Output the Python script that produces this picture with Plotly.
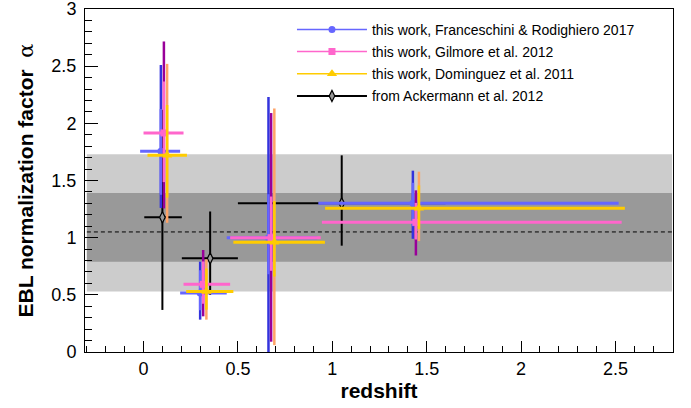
import plotly.graph_objects as go

# ---------------- data ----------------
# Franceschini & Rodighiero 2017 (this work)
fr_x      = [0.092, 0.300, 0.662, 1.427]
fr_xlo    = [0.110, 0.106, 0.221, 0.501]
fr_xhi    = [0.102, 0.141, 0.258, 1.090]
fr_y      = [1.755, 0.515, 1.000, 1.300]
fr_stat_u = [0.37, 0.20, 0.38, 0.18]
fr_stat_d = [0.38, 0.15, 0.32, 0.20]
fr_tot_u  = [0.755, 0.275, 1.23, 0.286]
fr_tot_d  = [0.495, 0.232, 1.05, 0.31]

# Gilmore et al. 2012 (this work)
gi_x      = [0.108, 0.316, 0.676, 1.443]
gi_xlo    = [0.108, 0.104, 0.217, 0.498]
gi_xhi    = [0.104, 0.143, 0.263, 1.090]
gi_y      = [1.916, 0.592, 1.000, 1.134]
gi_stat_u = [0.45, 0.20, 0.36, 0.17]
gi_stat_d = [0.43, 0.17, 0.29, 0.15]
gi_tot_u  = [0.80, 0.30, 1.09, 0.28]
gi_tot_d  = [0.66, 0.28, 0.91, 0.29]

# Dominguez et al. 2011 (this work)
do_x      = [0.125, 0.333, 0.693, 1.459]
do_xlo    = [0.104, 0.107, 0.217, 0.497]
do_xhi    = [0.105, 0.143, 0.268, 1.091]
do_y      = [1.720, 0.530, 0.960, 1.257]
do_stat_u = [0.44, 0.20, 0.36, 0.20]
do_stat_d = [0.37, 0.16, 0.30, 0.18]
do_tot_u  = [0.80, 0.28, 1.17, 0.32]
do_tot_d  = [0.59, 0.247, 0.90, 0.287]

# Ackermann et al. 2012
ac_x   = [0.100, 0.353, 1.050]
ac_xlo = [0.096, 0.150, 0.550]
ac_xhi = [0.103, 0.147, 0.550]
ac_y   = [1.178, 0.819, 1.300]
ac_yu  = [0.94, 0.41, 0.42]
ac_yd  = [0.81, 0.32, 0.37]

# combined bands
band_x      = [-0.30, 2.80]
band_outer  = [0.53, 1.73]
band_inner  = [0.79, 1.39]
band_center = 1.05

# ---------------- styles ----------------
series = [
    dict(name="this work, Franceschini &amp; Rodighiero 2017", x=fr_x, xlo=fr_xlo, xhi=fr_xhi,
         y=fr_y, su=fr_stat_u, sd=fr_stat_d, tu=fr_tot_u, td=fr_tot_d,
         c="#6666ff", dc="#3333dd", sym="circle", size=7),
    dict(name="this work, Gilmore et al. 2012", x=gi_x, xlo=gi_xlo, xhi=gi_xhi,
         y=gi_y, su=gi_stat_u, sd=gi_stat_d, tu=gi_tot_u, td=gi_tot_d,
         c="#ff66cc", dc="#990099", sym="square", size=7),
    dict(name="this work, Dominguez et al. 2011", x=do_x, xlo=do_xlo, xhi=do_xhi,
         y=do_y, su=do_stat_u, sd=do_stat_d, tu=do_tot_u, td=do_tot_d,
         c="#ffcc00", dc="#ffa366", sym="triangle-up", size=9),
]

fig = go.Figure()

# bands
fig.add_shape(type="rect", x0=band_x[0], x1=band_x[1], y0=band_outer[0], y1=band_outer[1],
              fillcolor="#cccccc", line_width=0, layer="below")
fig.add_shape(type="rect", x0=band_x[0], x1=band_x[1], y0=band_inner[0], y1=band_inner[1],
              fillcolor="#999999", line_width=0, layer="below")
fig.add_shape(type="line", x0=band_x[0], x1=band_x[1], y0=band_center, y1=band_center,
              line=dict(color="black", width=1, dash="4px,3px"), layer="below")

# Ackermann (drawn first)
fig.add_trace(go.Scatter(
    x=ac_x, y=ac_y, mode="markers", showlegend=False,
    marker=dict(symbol="diamond-tall", size=8, color="#999999",
                line=dict(color="black", width=1.2)),
    error_x=dict(type="data", symmetric=False, array=ac_xhi, arrayminus=ac_xlo,
                 color="black", thickness=2, width=0),
    error_y=dict(type="data", symmetric=False, array=ac_yu, arrayminus=ac_yd,
                 color="black", thickness=2, width=0),
))

for s in series:
    # total (outer) error, darker colour
    fig.add_trace(go.Scatter(
        x=s["x"], y=s["y"], mode="markers", showlegend=False,
        marker=dict(size=1, color="rgba(0,0,0,0)"),
        error_y=dict(type="data", symmetric=False, array=s["tu"], arrayminus=s["td"],
                     color=s["dc"], thickness=2.5, width=0),
    ))
    # statistical (inner) error + bin width
    fig.add_trace(go.Scatter(
        x=s["x"], y=s["y"], mode="markers", showlegend=False,
        marker=dict(symbol=s["sym"], size=s["size"], color=s["c"]),
        error_x=dict(type="data", symmetric=False, array=s["xhi"], arrayminus=s["xlo"],
                     color=s["c"], thickness=3, width=0),
        error_y=dict(type="data", symmetric=False, array=s["su"], arrayminus=s["sd"],
                     color=s["c"], thickness=2.5, width=0),
    ))

# legend entries
for i, s in enumerate(series):
    fig.add_trace(go.Scatter(
        x=[None], y=[None], mode="lines+markers", name=s["name"], legendgroup=str(i),
        line=dict(color=s["c"], width=1.5),
        marker=dict(symbol=s["sym"], size=s["size"], color=s["c"]),
    ))
fig.add_trace(go.Scatter(
    x=[None], y=[None], mode="lines+markers", name="from Ackermann et al. 2012", legendgroup="3",
    line=dict(color="black", width=2),
    marker=dict(symbol="diamond-tall", size=8, color="#999999", line=dict(color="black", width=1.2)),
))

font = "Liberation Sans, Arial, Helvetica, sans-serif"
fig.update_layout(
    width=691, height=408,
    margin=dict(l=85, r=18, t=9, b=56, autoexpand=False),
    paper_bgcolor="white", plot_bgcolor="white",
    font=dict(family=font, size=18, color="black"),
    showlegend=True,
    legend=dict(x=0.352, y=0.986, xanchor="left", yanchor="top",
                bgcolor="rgba(0,0,0,0)", borderwidth=0, itemwidth=70,
                font=dict(size=14, family=font), tracegroupgap=1),
    xaxis=dict(range=[-0.31, 2.805], showline=True, linecolor="black", linewidth=1,
               mirror=True, showgrid=False, zeroline=False, automargin=True,
               ticks="inside", ticklen=11, tickwidth=1, tickcolor="black",
               tick0=0, dtick=0.5, ticklabeloverflow="allow",
               minor=dict(ticks="inside", ticklen=6, dtick=0.1, tickcolor="black", showgrid=False),
               title=dict(text="<b>redshift</b>", font=dict(size=21, family=font), standoff=4)),
    yaxis=dict(range=[0, 3], showline=True, linecolor="black", linewidth=1,
               mirror=True, showgrid=False, zeroline=False, automargin=True,
               ticks="inside", ticklen=13, tickwidth=1, tickcolor="black",
               tick0=0, dtick=0.5, ticklabelstandoff=4, ticklabeloverflow="allow",
               minor=dict(ticks="inside", ticklen=7, dtick=0.1, tickcolor="black", showgrid=False),
               title=dict(text="<b>EBL normalization factor</b>  <span style='font-family:DejaVu Serif;font-weight:normal'>α</span>",
                          font=dict(size=21, family=font), standoff=12)),
)

fig.write_html("out.html", config={"displayModeBar": False},
               post_script="document.body.style.margin='0px';")
